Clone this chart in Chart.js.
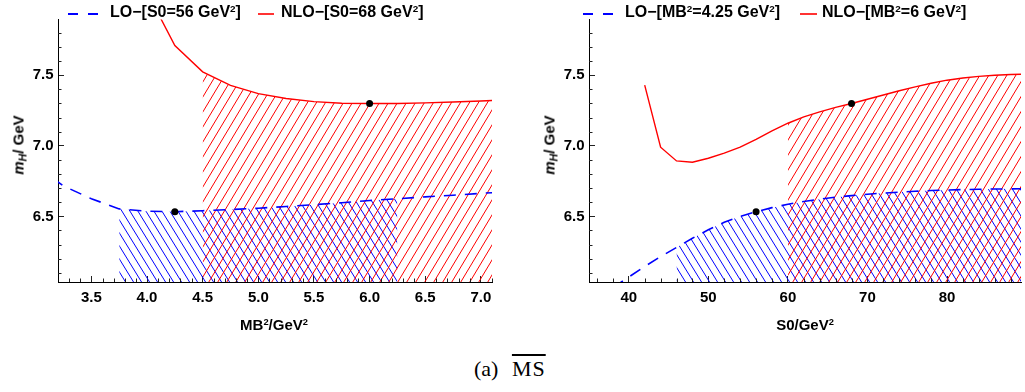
<!DOCTYPE html>
<html>
<head>
<meta charset="utf-8">
<script src="https://cdn.jsdelivr.net/npm/chart.js@4.4.1/dist/chart.umd.min.js"></script>
<style>
  body { margin: 0; background: #fff; }
  #page { position: relative; width: 1025px; height: 392px; overflow: hidden; font-family: "Liberation Sans", Arial, sans-serif; }
  canvas { position: absolute; top: 0; }
  .txt { position: absolute; white-space: nowrap; font-weight: bold; color: #000; }
  .leg { font-size: 16px; line-height: 16px; top: 4px; }
  .sup { font-size: 0.62em; position: relative; top: -0.55em; }
  .sub { font-size: 0.7em; position: relative; top: 0.3em; }
  .xt { font-size: 15px; line-height: 18px; transform: translateX(-50%); top: 316px; }
  .yt { font-size: 15px; line-height: 18px; transform: translate(-50%, -50%) rotate(-90deg); top: 145px; }
  .samp { position: absolute; top: 12px; }
  #cap { position: absolute; left: 474px; top: 356px; font-family: "Liberation Serif", "DejaVu Serif", serif; font-size: 22px; white-space: nowrap; }
  #cap .ov { text-decoration: overline; letter-spacing: 1px; margin-left: 8px; }
</style>
</head>
<body>
<div id="page">
  <canvas id="left" width="512" height="340" style="left:0"></canvas>
  <canvas id="right" width="513" height="340" style="left:512px"></canvas>

  <svg class="samp" style="left:68px" width="32" height="4"><line x1="0" y1="2" x2="32" y2="2" stroke="#0000ff" stroke-width="2" stroke-dasharray="10 10"/></svg>
  <div class="txt leg" id="legLoL" style="left:110px"></div>
  <svg class="samp" style="left:258px" width="16" height="4"><line x1="0" y1="2" x2="16" y2="2" stroke="#ff0000" stroke-width="1.6"/></svg>
  <div class="txt leg" id="legNloL" style="left:281px"></div>

  <svg class="samp" style="left:583px" width="32" height="4"><line x1="0" y1="2" x2="32" y2="2" stroke="#0000ff" stroke-width="2" stroke-dasharray="10 10"/></svg>
  <div class="txt leg" id="legLoR" style="left:625px"></div>
  <svg class="samp" style="left:800px" width="17" height="4"><line x1="0" y1="2" x2="17" y2="2" stroke="#ff0000" stroke-width="1.6"/></svg>
  <div class="txt leg" id="legNloR" style="left:822px"></div>

  <div class="txt yt" style="left:18.5px"><i>m<span class="sub">H</span></i>/ GeV</div>
  <div class="txt yt" style="left:550px"><i>m<span class="sub">H</span></i>/ GeV</div>
  <div class="txt xt" style="left:274px">MB<span class="sup">2</span>/GeV<span class="sup">2</span></div>
  <div class="txt xt" style="left:805px">S0/GeV<span class="sup">2</span></div>

  <div id="cap">(a) <span class="ov">MS</span></div>
</div>
<script>
// Borel mass scan (MB^2 in GeV^2)
const mbGrid = [3.0, 3.25, 3.5, 3.75, 4.0, 4.25, 4.5, 4.75, 5.0, 5.25, 5.5, 5.75, 6.0, 6.25, 6.5, 6.75, 7.0, 7.25];
const loVsMB = [6.86, 6.715, 6.625, 6.553, 6.537, 6.533, 6.54, 6.548, 6.558, 6.57, 6.583, 6.597, 6.612, 6.625, 6.638, 6.65, 6.663, 6.675];
const nloVsMB = [null, null, null, null, 8.09, 7.71, 7.524, 7.428, 7.37, 7.335, 7.313, 7.302, 7.30, 7.30, 7.304, 7.31, 7.318, 7.326];

// threshold scan (S0 in GeV^2)
const s0Grid = [38, 40, 42, 44, 46, 48, 50, 52, 54, 56, 58, 60, 62, 64, 66, 68, 70, 72, 74, 76, 78, 80, 82, 84, 86, 88, 90];
const loVsS0 = [5.995, 6.07, 6.145, 6.215, 6.28, 6.345, 6.405, 6.458, 6.50, 6.533, 6.562, 6.586, 6.606, 6.622, 6.636, 6.647, 6.657, 6.665, 6.672, 6.678, 6.683, 6.687, 6.69, 6.692, 6.694, 6.695, 6.696];
const nloVsS0 = [null, null, 7.43, 6.99, 6.893, 6.884, 6.912, 6.948, 6.99, 7.045, 7.105, 7.16, 7.205, 7.24, 7.272, 7.30, 7.33, 7.36, 7.39, 7.418, 7.443, 7.465, 7.48, 7.492, 7.50, 7.505, 7.508];

// central parameters and working windows
const loCentral = { mb: 4.25, s0: 56 };
const nloCentral = { mb: 6, s0: 68 };
const loWindowMB = [3.75, 6.25];
const nloWindowMB = [4.5, 7.25];
const loWindowS0 = [46, 90];
const nloWindowS0 = [60, 90];

// axis ticks
const mbTicks = [3.5, 4.0, 4.5, 5.0, 5.5, 6.0, 6.5, 7.0];
const s0Ticks = [40, 50, 60, 70, 80];
const massTicks = [6.5, 7.0, 7.5];

const BLUE = "#0000ff";
const RED = "#ff0000";

const sup2 = '<span class="sup">2</span>';
document.getElementById("legLoL").innerHTML = `LO\u2212[S0=${loCentral.s0} GeV${sup2}]`;
document.getElementById("legNloL").innerHTML = `NLO\u2212[S0=${nloCentral.s0} GeV${sup2}]`;
document.getElementById("legLoR").innerHTML = `LO\u2212[MB${sup2}=${loCentral.mb} GeV${sup2}]`;
document.getElementById("legNloR").innerHTML = `NLO\u2212[MB${sup2}=${nloCentral.mb} GeV${sup2}]`;

function points(xs, ys, lo = -Infinity, hi = Infinity) {
  return xs.map((x, i) => ({ x, y: ys[i] })).filter(p => p.y !== null && p.x >= lo && p.x <= hi);
}

function valueAt(xs, ys, x) {
  return ys[xs.indexOf(x)];
}

// diagonal hatch tile, dir 1 = "/" and -1 = "\"
function hatch(ctx, color, w, h, dir) {
  const tile = document.createElement("canvas");
  tile.width = w;
  tile.height = h;
  const g = tile.getContext("2d");
  g.strokeStyle = color;
  g.lineWidth = 1;
  for (const dx of [-w, 0, w]) {
    g.beginPath();
    if (dir > 0) {
      g.moveTo(dx - w, 2 * h);
      g.lineTo(dx + 2 * w, -h);
    } else {
      g.moveTo(dx - w, -h);
      g.lineTo(dx + 2 * w, 2 * h);
    }
    g.stroke();
  }
  return ctx.createPattern(tile, "repeat");
}

// short minor ticks along both axes, placed through the chart scales
const minorTicks = {
  id: "minorTicks",
  afterDraw(chart, args, opts) {
    const { ctx, chartArea, scales } = chart;
    ctx.save();
    ctx.strokeStyle = "#222";
    ctx.lineWidth = 1;
    ctx.beginPath();
    for (const v of opts.x) {
      const px = Math.round(scales.x.getPixelForValue(v)) + 0.5;
      ctx.moveTo(px, chartArea.bottom);
      ctx.lineTo(px, chartArea.bottom - 3.5);
    }
    for (const v of opts.y) {
      const py = Math.round(scales.y.getPixelForValue(v)) + 0.5;
      ctx.moveTo(chartArea.left, py);
      ctx.lineTo(chartArea.left + 3.5, py);
    }
    ctx.stroke();
    ctx.restore();
  },
};

function minorValues(from, to, step, majors) {
  const out = [];
  for (let v = from; v <= to + 1e-9; v += step) {
    const r = Math.round(v * 100) / 100;
    if (!majors.some(m => Math.abs(m - r) < 1e-6)) out.push(r);
  }
  return out;
}

const tickFont = { family: "'Liberation Sans', Arial, sans-serif", size: 15, weight: "bold" };

function makeChart(id, cfg) {
  const canvas = document.getElementById(id);
  const ctx = canvas.getContext("2d");
  return new Chart(ctx, {
    type: "line",
    data: {
      datasets: [
        {
          label: "central",
          data: cfg.dots,
          showLine: false,
          pointRadius: 3.5,
          pointBackgroundColor: "#000",
          pointBorderWidth: 0,
          order: 0,
        },
        {
          label: "NLO",
          data: cfg.nlo,
          borderColor: RED,
          borderWidth: 1.4,
          pointRadius: 0,
          fill: false,
          order: 1,
        },
        {
          label: "LO",
          data: cfg.lo,
          borderColor: BLUE,
          borderWidth: 1.6,
          borderDash: [12, 9],
          pointRadius: 0,
          fill: false,
          order: 2,
        },
        {
          label: "NLO window",
          data: cfg.nloBand,
          borderWidth: 0,
          borderColor: "transparent",
          pointRadius: 0,
          backgroundColor: hatch(ctx, RED, 9, 15, 1),
          fill: "start",
          order: 3,
        },
        {
          label: "LO window",
          data: cfg.loBand,
          borderWidth: 0,
          borderColor: "transparent",
          pointRadius: 0,
          backgroundColor: hatch(ctx, BLUE, 8, 13, -1),
          fill: "start",
          order: 4,
        },
      ],
    },
    options: {
      responsive: false,
      animation: false,
      events: [],
      layout: { padding: { top: 15, right: cfg.padRight, bottom: 0, left: 0 } },
      plugins: {
        legend: { display: false },
        tooltip: { enabled: false },
        minorTicks: { x: cfg.minorX, y: minorValues(6.1, 7.8, 0.1, massTicks) },
      },
      scales: {
        x: {
          type: "linear",
          min: cfg.xMin,
          max: cfg.xMax,
          afterBuildTicks: (s) => { s.ticks = cfg.xTicks.map(v => ({ value: v })); },
          afterFit: (s) => { s.height = 58; },
          grid: { drawOnChartArea: false, tickLength: -6, tickColor: "#222" },
          border: { color: "#000", width: 1 },
          ticks: { font: tickFont, color: "#000", padding: 13, maxRotation: 0, autoSkip: false, callback: cfg.xFormat },
        },
        y: {
          type: "linear",
          min: 6.035,
          max: 7.895,
          afterBuildTicks: (s) => { s.ticks = massTicks.map(v => ({ value: v })); },
          afterFit: (s) => { s.width = cfg.yWidth; },
          grid: { drawOnChartArea: false, tickLength: -6, tickColor: "#222" },
          border: { color: "#000", width: 1 },
          ticks: { font: tickFont, color: "#000", padding: 10.5, callback: (v) => v.toFixed(1) },
        },
      },
    },
    plugins: [minorTicks],
  });
}

makeChart("left", {
  lo: points(mbGrid, loVsMB),
  nlo: points(mbGrid, nloVsMB),
  loBand: points(mbGrid, loVsMB, ...loWindowMB),
  nloBand: points(mbGrid, nloVsMB, ...nloWindowMB),
  dots: [
    { x: nloCentral.mb, y: valueAt(mbGrid, nloVsMB, nloCentral.mb) },
    { x: loCentral.mb, y: valueAt(mbGrid, loVsMB, loCentral.mb) },
  ],
  xMin: 3.2,
  xMax: 7.1,
  xTicks: mbTicks,
  xFormat: (v) => v.toFixed(1),
  minorX: minorValues(3.3, 7.1, 0.1, mbTicks),
  yWidth: 58,
  padRight: 20,
});

makeChart("right", {
  lo: points(s0Grid, loVsS0),
  nlo: points(s0Grid, nloVsS0),
  loBand: points(s0Grid, loVsS0, ...loWindowS0),
  nloBand: points(s0Grid, nloVsS0, ...nloWindowS0),
  dots: [
    { x: nloCentral.s0, y: valueAt(s0Grid, nloVsS0, nloCentral.s0) },
    { x: loCentral.s0, y: valueAt(s0Grid, loVsS0, loCentral.s0) },
  ],
  xMin: 35,
  xMax: 89.3,
  xTicks: s0Ticks,
  xFormat: (v) => String(v),
  minorX: minorValues(36, 88, 2, s0Ticks),
  yWidth: 77,
  padRight: 2,
});
</script>
</body>
</html>
